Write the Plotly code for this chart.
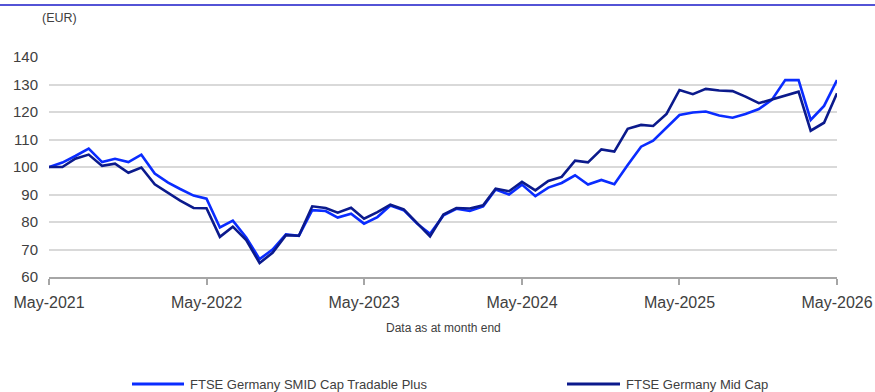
import pandas as pd
import plotly.graph_objects as go

# Monthly index levels (EUR), rebased to 100 at May-2021
months = pd.date_range("2021-05-01", "2026-05-01", freq="MS")

smid_tradable_plus = [
    100.0, 101.6, 104.0, 106.7, 101.8, 103.0, 101.8, 104.5, 97.6, 94.3,
    92.0, 89.6, 88.5, 78.0, 80.5, 74.4, 66.5, 70.0, 75.5, 75.0,
    84.3, 84.0, 81.6, 83.0, 79.4, 81.8, 86.0, 84.3, 79.4, 75.7,
    82.4, 84.8, 84.0, 85.7, 91.8, 90.0, 93.6, 89.4, 92.5, 94.2,
    97.0, 93.6, 95.3, 93.7, 100.7, 107.4, 109.6, 114.4, 118.9, 119.8,
    120.2, 118.7, 117.9, 119.3, 121.1, 124.4, 131.6, 131.6, 117.1, 122.2,
    131.6,
]

mid_cap = [
    100.0, 100.0, 103.0, 104.5, 100.4, 101.2, 97.9, 99.8, 93.7, 90.6,
    87.8, 85.1, 85.0, 74.6, 78.3, 73.4, 65.1, 68.8, 75.2, 75.0,
    85.7, 85.1, 83.4, 85.2, 81.2, 83.6, 86.3, 84.6, 79.8, 74.8,
    82.7, 85.1, 84.9, 86.1, 92.1, 91.2, 94.6, 91.5, 94.9, 96.4,
    102.3, 101.7, 106.4, 105.6, 113.9, 115.3, 114.9, 119.3, 128.0, 126.5,
    128.4, 127.8, 127.6, 125.6, 123.2, 124.6, 125.9, 127.4, 113.2, 116.1,
    126.8,
]

series_names = ["FTSE Germany SMID Cap Tradable Plus", "FTSE Germany Mid Cap"]
series_colors = ["#0a2cff", "#0b1a8c"]
y_ticks = [60, 70, 80, 90, 100, 110, 120, 130, 140]

FONT = "Liberation Sans, Arial, sans-serif"
TEXT = "#404040"
W, H = 875, 392
ML, MR, MT, MB = 49, 38, 57, 115
PW, PH = W - ML - MR, H - MT - MB


def px_x(x):
    """Pixel column -> paper x."""
    return (x - ML) / PW


def px_y(y):
    """Pixel row -> paper y."""
    return (H - MB - y) / PH


fig = go.Figure()
for name, vals, col in zip(series_names, [smid_tradable_plus, mid_cap], series_colors):
    fig.add_trace(go.Scatter(
        x=months, y=vals, name=name, mode="lines",
        line=dict(color=col, width=2.6),
    ))

# Legend row below the chart: a short line swatch followed by the series name
legend_slots = [(132, 184), (567, 620)]
legend_y = 384
shapes = [dict(
    type="line", xref="paper", yref="paper",
    x0=px_x(0), x1=px_x(W), y0=px_y(5), y1=px_y(5),
    line=dict(color="#1a1ac8", width=1.5),
)]
annotations = [
    dict(text="(EUR)", xref="paper", yref="paper",
         x=px_x(40), xanchor="left", y=px_y(18), yanchor="middle",
         showarrow=False, font=dict(size=12.5, color=TEXT)),
    dict(text="Data as at month end", xref="paper", yref="paper",
         x=px_x(443), xanchor="center", y=px_y(328), yanchor="middle",
         showarrow=False, font=dict(size=12, color=TEXT)),
]
for (x0, x1), name, col in zip(legend_slots, series_names, series_colors):
    shapes.append(dict(
        type="line", xref="paper", yref="paper",
        x0=px_x(x0), x1=px_x(x1), y0=px_y(legend_y), y1=px_y(legend_y),
        line=dict(color=col, width=3),
    ))
    annotations.append(dict(
        text=name, xref="paper", yref="paper",
        x=px_x(x1 + 4), xanchor="left", y=px_y(legend_y), yanchor="middle",
        showarrow=False, font=dict(size=13, color=TEXT),
    ))

fig.update_layout(
    width=W, height=H,
    margin=dict(l=ML, r=MR, t=MT, b=MB, pad=0, autoexpand=False),
    paper_bgcolor="white", plot_bgcolor="white",
    font=dict(family=FONT, color=TEXT),
    showlegend=False,
    xaxis=dict(
        type="date", automargin=False,
        range=[months[0], months[-1]],
        tickvals=months[::12], tickformat="%b-%Y",
        tickfont=dict(size=16, color=TEXT),
        showgrid=False, zeroline=False,
        showline=True, linecolor="#a6a6a6", linewidth=1.5,
        ticks="outside", ticklen=6, tickcolor="#a6a6a6", tickwidth=1.5,
        ticklabelstandoff=4,
    ),
    yaxis=dict(
        automargin=False,
        range=[60, 140], tickvals=y_ticks,
        tickfont=dict(size=15, color=TEXT),
        showgrid=True, gridcolor="#d9d9d9", gridwidth=1.5,
        zeroline=False, showline=False, ticks="",
        ticklabelstandoff=10,
    ),
    shapes=shapes,
    annotations=annotations,
)

fig.write_html("out.html")
